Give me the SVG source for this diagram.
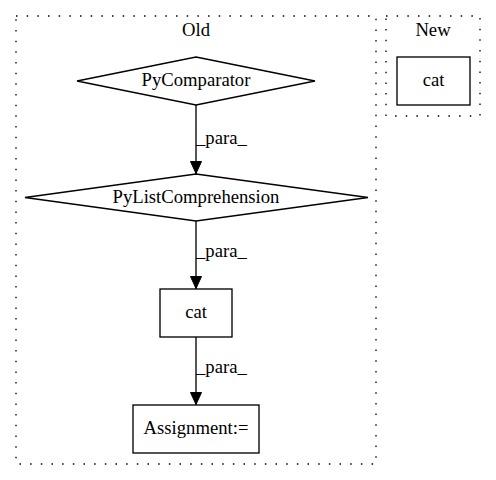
<svg xmlns="http://www.w3.org/2000/svg" width="496" height="480" viewBox="0 0 496 480">
<style>
text{font-family:"Liberation Serif","Times New Roman",serif;font-size:18.67px;fill:#000;text-anchor:middle}
.cl{fill:none;stroke:#000;stroke-width:1.33;stroke-dasharray:1.5,9.17}
.nd{fill:#fff;stroke:#000;stroke-width:1.33}
.ed{stroke:#000;stroke-width:1.33;fill:none}
.lb{text-anchor:start}
</style>
<defs>
<marker id="ah" markerWidth="13" markerHeight="12" refX="13" refY="6" orient="auto" markerUnits="userSpaceOnUse">
<path d="M0.5,0.5 L12.5,6 L0.5,11.5 Z" fill="#000" stroke="#000" stroke-width="1"/>
</marker>
</defs>
<rect class="cl" x="16" y="16" width="360" height="448"/>
<text x="196" y="36">Old</text>
<rect class="cl" x="386" y="16" width="94" height="100"/>
<text x="433" y="36">New</text>
<g id="edges">
<line class="ed" x1="196" y1="105" x2="196" y2="174" marker-end="url(#ah)"/>
<text class="lb" x="196" y="144">_para_</text>
<line class="ed" x1="196" y1="221" x2="196" y2="289" marker-end="url(#ah)"/>
<text class="lb" x="196" y="257">_para_</text>
<line class="ed" x1="196" y1="337" x2="196" y2="405" marker-end="url(#ah)"/>
<text class="lb" x="196" y="373">_para_</text>
</g>
<g id="pycomparator">
<polygon class="nd" points="196,57 315,81 196,105 77,81"/>
<text x="196" y="86">PyComparator</text>
</g>
<g id="pylistcomprehension">
<polygon class="nd" points="196,174 368,197.5 196,221 25,197.5"/>
<text x="196" y="202.5">PyListComprehension</text>
</g>
<g id="cat_old">
<rect class="nd" x="160" y="289" width="72" height="48"/>
<text x="196" y="318">cat</text>
</g>
<g id="assignment">
<rect class="nd" x="133" y="405" width="126" height="48"/>
<text x="196" y="434">Assignment:=</text>
</g>
<g id="cat_new">
<rect class="nd" x="397" y="57" width="73" height="48"/>
<text x="433.5" y="86">cat</text>
</g>
</svg>
